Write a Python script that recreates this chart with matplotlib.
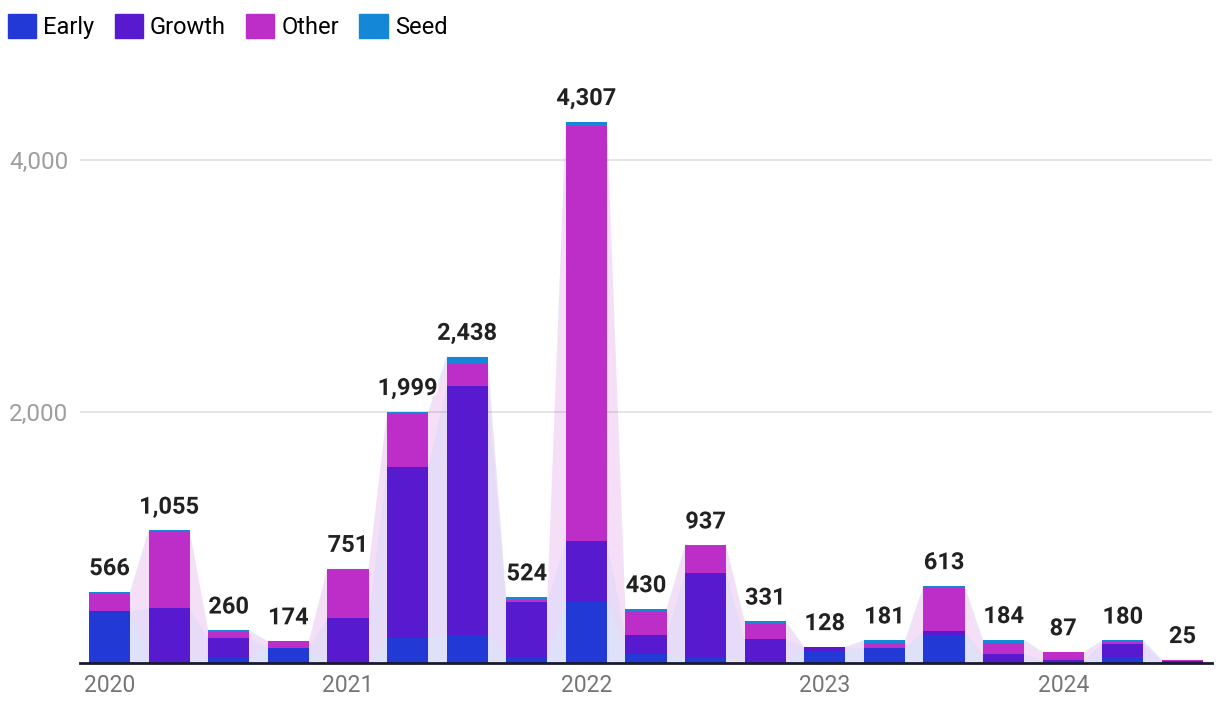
import matplotlib.pyplot as plt
import matplotlib.patheffects as pe
import numpy as np
from matplotlib.patches import Patch

# quarterly funding by stage, 2020 Q1 .. 2024 Q3
quarters = ['2020 Q1', '2020 Q2', '2020 Q3', '2020 Q4',
            '2021 Q1', '2021 Q2', '2021 Q3', '2021 Q4',
            '2022 Q1', '2022 Q2', '2022 Q3', '2022 Q4',
            '2023 Q1', '2023 Q2', '2023 Q3', '2023 Q4',
            '2024 Q1', '2024 Q2', '2024 Q3']
early = [405, 10, 49, 122, 0, 201, 223, 45, 485, 74, 42, 14, 98, 118, 223, 2, 12, 45, 12]
growth = [5, 425, 150, 0, 355, 1359, 1979, 440, 485, 149, 675, 176, 28, 0, 32, 68, 8, 108, 5]
other = [140, 610, 45, 50, 385, 424, 177, 20, 3305, 191, 212, 120, 2, 45, 350, 92, 67, 14, 8]
seed = [16, 10, 16, 2, 11, 15, 59, 19, 32, 16, 8, 21, 0, 18, 8, 22, 0, 13, 0]
totals = [566, 1055, 260, 174, 751, 1999, 2438, 524, 4307, 430,
          937, 331, 128, 181, 613, 184, 87, 180, 25]
year_labels = ['2020', '2021', '2022', '2023', '2024']

series = [early, growth, other, seed]
names = ['Early', 'Growth', 'Other', 'Seed']
colors = ['#2339d5', '#581acf', '#bd2ec9', '#1487d6']

plt.rcParams['font.family'] = ['Roboto', 'DejaVu Sans']

fig = plt.figure(figsize=(12.2, 7.22), dpi=100)
ax = fig.add_axes([80 / 1220, 59 / 722, 1132 / 1220, 583 / 722])

x = np.arange(len(quarters))
w = 0.69

# faint stacked area joining bar edges
xe = np.repeat(x, 2) + np.tile([-w / 2, w / 2], len(x))
ax.stackplot(xe, *[np.repeat(s, 2) for s in series], colors=colors,
             alpha=0.15, linewidth=0, zorder=1)

bottom = np.zeros(len(x))
for s, c in zip(series, colors):
    ax.bar(x, s, width=w, bottom=bottom, color=c, linewidth=0, zorder=2)
    bottom += np.array(s)

for xi, t in zip(x, totals):
    ax.annotate(f'{t:,}', (xi, t), xytext=(0, 8.5), textcoords='offset points',
                ha='center', va='bottom', fontsize=17, fontweight='bold',
                color='#212121', zorder=4,
                path_effects=[pe.withStroke(linewidth=3, foreground='white')])

ax.set_xlim(-0.495, len(x) - 0.505)
ax.set_ylim(0, 4640)
ax.set_yticks([2000, 4000])
ax.set_yticklabels(['2,000', '4,000'])
ax.set_xticks(x[::4])
ax.set_xticklabels(year_labels)
ax.tick_params(axis='y', length=0, pad=8.5, labelsize=17.5, labelcolor='#9e9e9e')
ax.tick_params(axis='x', length=0, pad=8, labelsize=16.5, labelcolor='#757575')
ax.grid(axis='y', color='#e0e0e0', linewidth=1.2, zorder=0)
ax.set_axisbelow(True)
for side in ['top', 'right', 'left']:
    ax.spines[side].set_visible(False)
ax.spines['bottom'].set_color('#1a1a2e')
ax.spines['bottom'].set_linewidth(2)
ax.spines['bottom'].set_zorder(5)

handles = [Patch(color=c, label=n) for c, n in zip(colors, names)]
fig.legend(handles=handles, loc='upper left', bbox_to_anchor=(-0.005, 1.0),
           ncol=4, frameon=False, fontsize=17, handlelength=1.2,
           handleheight=1.2, handletextpad=0.3, columnspacing=0.85,
           borderaxespad=0.2)

fig.savefig('out.png', dpi=100)
